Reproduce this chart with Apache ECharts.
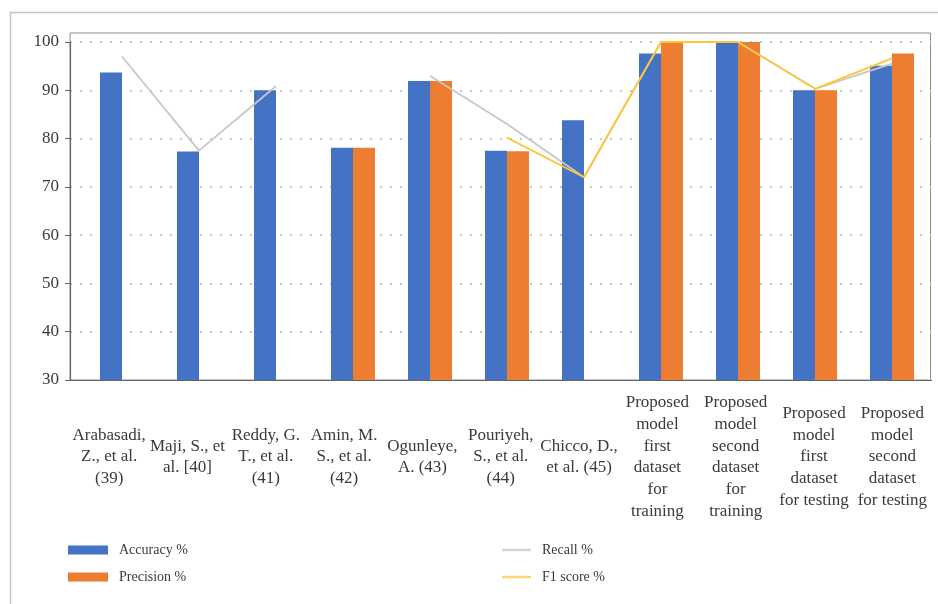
<!DOCTYPE html>
<html>
<head>
<meta charset="utf-8">
<title>Accuracy, precision, recall and F1 score comparison</title>
<script src="https://cdn.jsdelivr.net/npm/echarts@6/dist/echarts.min.js"></script>
<style>
  html, body { margin: 0; padding: 0; background: #ffffff; }
  #chart { width: 938px; height: 604px; }
</style>
</head>
<body>
<div id="chart"></div>
<script>
// Studies and model runs along the x axis
const categories = [
  'Arabasadi,\nZ., et al.\n(39)',
  'Maji, S., et\nal. [40]',
  'Reddy, G.\nT., et al.\n(41)',
  'Amin, M.\nS., et al.\n(42)',
  'Ogunleye,\nA. (43)',
  'Pouriyeh,\nS., et al.\n(44)',
  'Chicco, D.,\net al. (45)',
  'Proposed\nmodel\nfirst\ndataset\nfor\ntraining',
  'Proposed\nmodel\nsecond\ndataset\nfor\ntraining',
  'Proposed\nmodel\nfirst\ndataset\nfor testing',
  'Proposed\nmodel\nsecond\ndataset\nfor testing'
];

// Metric values in percent ('-' = not reported)
const accuracy  = [93.7, 77.3, 90.0, 78.1, 91.9, 77.5, 83.8, 97.6, 100, 90.0, 95.1];
const precision = ['-', '-', '-', 78.1, 91.9, 77.4, '-', 100, 100, 90.0, 97.6];
const recall    = [97.0, 77.5, 90.9, '-', 93.0, 83.0, 72.0, 100, 100, 90.3, 95.5];
const f1score   = ['-', '-', '-', '-', '-', 80.2, 72.0, 100, 100, 90.3, 96.6];

// Value axis range and step
const yMin = 30;
const yMax = 100;
const yStep = 10;

const serif = "'Liberation Serif', 'DejaVu Serif', serif";
const textColor = '#3a3a3a';
const recallColor = '#c8c8c8';
const f1Color = '#FFC535';

const chart = echarts.init(document.getElementById('chart'), null, { renderer: 'canvas' });

chart.setOption({
  backgroundColor: '#ffffff',
  animation: false,
  graphic: [{
    type: 'rect',
    left: 8, top: 10,
    shape: { width: 940, height: 600 },
    style: { fill: 'none', stroke: '#c4c4c4', lineWidth: 1.5 },
    silent: true
  }],
  legend: [{
    data: ['Accuracy %', 'Precision %'],
    orient: 'vertical',
    left: 63, top: 538,
    itemWidth: 40, itemHeight: 9, itemGap: 13,
    icon: 'rect',
    textStyle: { fontFamily: serif, fontSize: 14, color: textColor, padding: [0, 0, 0, 6] }
  }, {
    data: [
      { name: 'Recall %', icon: 'rect', itemStyle: { color: '#d4d4d4' } },
      { name: 'F1 score %', icon: 'rect', itemStyle: { color: '#FFD66E' } }
    ],
    orient: 'vertical',
    left: 497, top: 538,
    itemWidth: 29, itemHeight: 2.5, itemGap: 13,
    textStyle: { fontFamily: serif, fontSize: 14, color: textColor, padding: [0, 0, 0, 6] }
  }],
  grid: [
    // axes, labels and dotted guides
    { left: 70, right: 6.5, top: 42, bottom: 224 },
    // plot frame
    { left: 70, right: 7.5, top: 33, bottom: 224, show: true, borderColor: '#8c8c8c', borderWidth: 1 },
    // data area
    { left: 83.5, right: 7.5, top: 42, bottom: 224 }
  ],
  xAxis: [{
    gridIndex: 0,
    type: 'category',
    data: categories,
    axisLine: { lineStyle: { color: '#666666', width: 1.2 } },
    axisTick: { alignWithLabel: true, length: 6, lineStyle: { color: '#666666' } },
    axisLabel: {
      interval: 0,
      margin: 77,
      verticalAlign: 'middle',
      fontFamily: serif,
      fontSize: 17,
      lineHeight: 21.8,
      color: textColor
    }
  }, {
    gridIndex: 1, type: 'value', show: false
  }, {
    gridIndex: 2, type: 'category', data: categories, show: false
  }],
  yAxis: [{
    gridIndex: 0,
    type: 'value',
    min: yMin, max: yMax, interval: yStep,
    axisLine: { show: true, lineStyle: { color: '#666666', width: 1.2 } },
    axisTick: { show: true, length: 5, lineStyle: { color: '#666666' } },
    axisLabel: { margin: 11, fontFamily: serif, fontSize: 17, color: textColor },
    splitLine: { show: true, lineStyle: { color: '#c8c8c8', width: 2, type: [2, 8] } }
  }, {
    gridIndex: 1, type: 'value', show: false
  }, {
    gridIndex: 2, type: 'value', min: yMin, max: yMax, show: false
  }],
  series: [{
    name: 'Accuracy %',
    type: 'bar',
    xAxisIndex: 2, yAxisIndex: 2,
    data: accuracy,
    barWidth: 22,
    barGap: '0%',
    itemStyle: { color: '#4472C4' }
  }, {
    name: 'Precision %',
    type: 'bar',
    xAxisIndex: 2, yAxisIndex: 2,
    data: precision,
    barWidth: 22,
    barGap: '0%',
    itemStyle: { color: '#ED7D31' }
  }, {
    name: 'Recall %',
    type: 'line',
    xAxisIndex: 2, yAxisIndex: 2,
    data: recall,
    symbol: 'none',
    connectNulls: false,
    z: 3,
    lineStyle: { color: recallColor, width: 1.8 },
    itemStyle: { color: recallColor }
  }, {
    name: 'F1 score %',
    type: 'line',
    xAxisIndex: 2, yAxisIndex: 2,
    data: f1score,
    symbol: 'none',
    connectNulls: false,
    z: 4,
    lineStyle: { color: f1Color, width: 1.8 },
    itemStyle: { color: f1Color }
  }]
});
</script>
</body>
</html>
